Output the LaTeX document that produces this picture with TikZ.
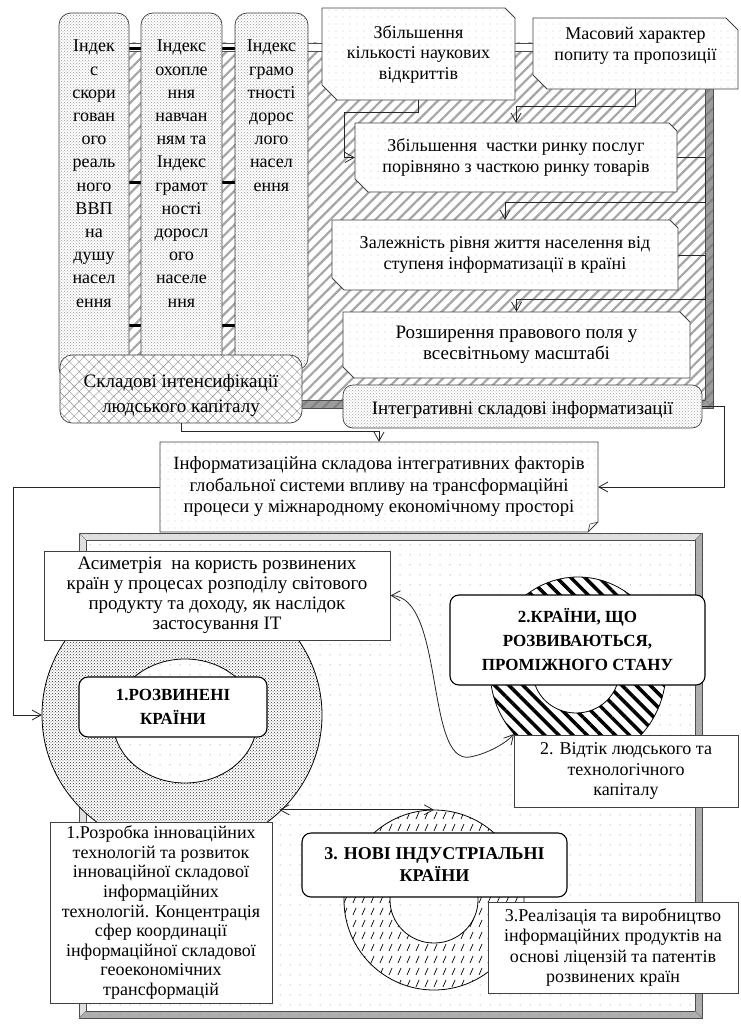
\documentclass[tikz,border=0pt]{standalone}
\usepackage{fontspec}
\setmainfont{Liberation Serif}
\usetikzlibrary{arrows.meta,patterns,patterns.meta,shapes.geometric,calc}

\pgfdeclarepatternformonly{slashdash}{\pgfqpoint{-1pt}{-1pt}}{\pgfqpoint{10pt}{13pt}}{\pgfqpoint{9pt}{12pt}}{%
  \pgfsetlinewidth{0.7pt}%
  \pgfpathmoveto{\pgfqpoint{2pt}{2pt}}%
  \pgfpathlineto{\pgfqpoint{5pt}{9pt}}%
  \pgfusepathqstroke}

% x1 y1 x2 y2 cNE cSW style
\newcommand\snipbox[7]{%
  \path[#7] (#1,#2) -- ({#3-#5},#2) -- (#3,{#2+#5}) -- (#3,#4) -- ({#1+#6},#4) -- (#1,{#4-#6}) -- cycle;}
% x1 y1 x2 y2 w light dark
\newcommand\bevelframe[7]{%
  \fill[#6] (#1,#2) -- (#3,#2) -- ({#3-#5},{#2+#5}) -- ({#1+#5},{#2+#5}) -- ({#1+#5},{#4-#5}) -- (#1,#4) -- cycle;
  \fill[#7] (#3,#2) -- (#3,#4) -- (#1,#4) -- ({#1+#5},{#4-#5}) -- ({#3-#5},{#4-#5}) -- ({#3-#5},{#2+#5}) -- cycle;
  \draw[black!70, line width=0.6pt] (#1,#2) rectangle (#3,#4);
  \draw[black!70, line width=0.6pt] ({#1+#5},{#2+#5}) rectangle ({#3-#5},{#4-#5});
  \draw[black!50, line width=0.4pt] (#1,#2) -- ({#1+#5},{#2+#5}) (#3,#2) -- ({#3-#5},{#2+#5})
      (#3,#4) -- ({#3-#5},{#4-#5}) (#1,#4) -- ({#1+#5},{#4-#5});}

\tikzset{
  txt/.style={font=\fontsize{18}{20.5}\selectfont, align=center, inner sep=0pt, text=black},
  txtm/.style={font=\fontsize{18.7}{21.5}\selectfont, align=center, inner sep=0pt, text=black},
  txtb/.style={font=\fontsize{19}{21.5}\selectfont, align=center, inner sep=0pt, text=black},
  asyt/.style={font=\fontsize{19}{20}\selectfont, align=center, inner sep=0pt, text=black},
  rozt/.style={font=\fontsize{18}{19.6}\selectfont, align=center, inner sep=0pt, text=black},
  colt/.style={font=\fontsize{18}{23.2}\selectfont, align=center, inner sep=0pt},
  sklt/.style={font=\fontsize{19}{25}\selectfont, align=center, inner sep=0pt},
  boldt/.style={font=\bfseries\fontsize{17}{24}\selectfont, align=center, inner sep=0pt},
  boldl/.style={font=\bfseries\fontsize{18}{22}\selectfont, align=center, inner sep=0pt},
  colbox/.style={draw=black!75, line width=0.7pt, rounded corners=12pt, preaction={fill=white},
     pattern=crosshatch dots, pattern color=black!40},
  sklbox/.style={draw=black!75, line width=0.7pt, rounded corners=12pt, preaction={fill=white},
     pattern={Hatch[angle=45,distance=7pt,line width=0.4pt]}, pattern color=black!45},
  intbox/.style={draw=black!75, line width=0.7pt, rounded corners=10pt, preaction={fill=white},
     pattern=crosshatch dots, pattern color=black!35},
  snipfill/.style={draw=black!75, line width=0.8pt, preaction={fill=white},
     pattern={Dots[distance=7pt,radius=0.45pt]}, pattern color=black!55},
  plainbox/.style={draw=black!75, line width=0.9pt, fill=white},
  cbox/.style={draw=black, line width=1.1pt, fill=white, rounded corners=9pt},
  conn/.style={draw=black!85, line width=0.8pt, -{Straight Barb[length=9pt,width=10pt]}},
  dconn/.style={draw=black!85, line width=0.8pt, {Straight Barb[length=9pt,width=10pt]}-{Straight Barb[length=9pt,width=10pt]}},
  ringline/.style={draw=black, line width=0.8pt},
  ringnode/.style={ellipse, inner sep=0pt, draw=none},
}

\begin{document}
\begin{tikzpicture}[x=1pt,y=-1pt]
\useasboundingbox (0,0) rectangle (741,1025);

% ---------- top hatched frame ----------
\fill[white] (70,43) rectangle (713,408);
\fill[pattern={Lines[angle=45,distance=8pt,line width=2.2pt]}, pattern color=black!35] (70,43) rectangle (713,408);
\bevelframe{70}{43}{713}{408}{8}{white}{black!55,fill opacity=0.7}

\foreach \yy in {49,182,325}{
  \draw[line width=3pt] (129,\yy) -- (141,\yy);
  \draw[line width=3pt] (222,\yy) -- (235,\yy);
}

% columns
\node[colbox, minimum width=70, minimum height=367] (col1) at (94,196.5) {};
\node[colbox, minimum width=81, minimum height=367] (col2) at (181.5,196.5) {};
\node[colbox, minimum width=73, minimum height=357] (col3) at (271.5,191.5) {};
\node[colt, anchor=north] (col1t) at (94,40) {Індек\\с\\скори\\гован\\ого\\реаль\\ного\\ВВП\\на\\душу\\насел\\ення};
\node[colt, anchor=north] (col2t) at (181.5,40) {Індекс\\охопле\\ння\\навчан\\ням та\\Індекс\\грамот\\ності\\доросл\\ого\\населе\\ння};
\node[colt, anchor=north] (col3t) at (271.5,40) {Індекс\\грамо\\тності\\дорос\\лого\\насел\\ення};

% snip boxes
\snipbox{322}{8}{515}{100}{10}{15}{snipfill}
\node[txt, minimum width=193, minimum height=92] (zbk) at (418.5,54) {Збільшення\\кількості наукових\\відкриттів};
\snipbox{533}{18}{738}{89}{12}{14}{snipfill}
\node[minimum width=205, minimum height=71, inner sep=0pt] (mas) at (635.5,53.5) {};
\node[txt] (mast) at (635.5,46) {Масовий характер\\попиту та пропозиції};
\snipbox{355}{123}{677}{192}{8}{13}{snipfill}
\node[txt, minimum width=322, minimum height=69] (zch) at (516,157.5) {Збільшення~ частки ринку послуг\\порівняно з часткою ринку товарів};
\snipbox{332}{220}{678}{290}{8}{12}{snipfill}
\node[txt, minimum width=346, minimum height=70] (zal) at (505,255) {Залежність рівня життя населення від\\ступеня інформатизації в країні};
\snipbox{343}{312}{690}{378}{10}{11}{snipfill}
\node[txtb, minimum width=347, minimum height=66] (roz) at (516.5,345) {Розширення правового поля у\\всесвітньому масштабі};

% bottom boxes of top section
\node[sklbox, minimum width=242, minimum height=68] (skl) at (181,389) {};
\node[sklt] (sklt) at (181,395) {Складові інтенсифікації\\людського капіталу};
\node[intbox, minimum width=359, minimum height=43] (int) at (522.5,406.5) {};
\node[txtb] (intt) at (522.5,410) {Інтегративні складові інформатизації};

% informatization box with folded corner
\path[snipfill] (160,442) -- (598,442) -- (598,522) -- (588,532) -- (160,532) -- cycle;
\draw[black!75, line width=0.6pt] (598,522) -- (590,524) -- (588,532);
\node[txtm, minimum width=438, minimum height=90] (inf) at (379,487) {Інформатизаційна складова інтегративних факторів\\глобальної системи впливу на трансформаційні\\процеси у міжнародному економічному просторі};

% ---------- bottom panel ----------
\fill[white] (79,533) rectangle (702,1018);
\fill[pattern={Dots[distance=10pt,radius=0.5pt]}, pattern color=black!55] (79,533) rectangle (702,1018);
\bevelframe{79}{533}{702}{1018}{7}{black!20,fill opacity=0.6}{black!45,fill opacity=0.7}

% ring 1
\node[ringnode, minimum width=280, minimum height=270] (r1) at (182,715) {};
\fill[white, even odd rule] (182,715) ellipse [x radius=140, y radius=135] (185,721) ellipse [x radius=72, y radius=62];
\fill[pattern=crosshatch dots, pattern color=black!80, even odd rule] (182,715) ellipse [x radius=140, y radius=135] (185,721) ellipse [x radius=72, y radius=62];
\draw[ringline] (182,715) ellipse [x radius=140, y radius=135] (185,721) ellipse [x radius=72, y radius=62];

% ring 2
\node[ringnode, minimum width=176, minimum height=186] (r2) at (578,670) {};
\fill[white, even odd rule] (578,670) ellipse [x radius=88, y radius=93] (576,672) ellipse [x radius=43, y radius=41];
\fill[pattern={Lines[angle=-45,distance=10pt,line width=3.5pt]}, pattern color=black, even odd rule] (578,670) ellipse [x radius=88, y radius=93] (576,672) ellipse [x radius=43, y radius=41];
\draw[ringline] (578,670) ellipse [x radius=88, y radius=93] (576,672) ellipse [x radius=43, y radius=41];

% ring 3
\node[ringnode, minimum width=180, minimum height=180] (r3) at (434,900) {};
\fill[white, even odd rule] (434,900) ellipse [x radius=90, y radius=90] (434,900) ellipse [x radius=44, y radius=43];
\fill[pattern=slashdash, pattern color=black, even odd rule] (434,900) ellipse [x radius=90, y radius=90] (434,900) ellipse [x radius=44, y radius=43];
\draw[ringline] (434,900) ellipse [x radius=90, y radius=90] (434,900) ellipse [x radius=44, y radius=43];

% boxes in panel
\node[plainbox, asyt, minimum width=346, minimum height=89] (asy) at (217,595.5) {Асиметрія~ на користь розвинених\\країн у процесах розподілу світового\\продукту та доходу, як наслідок\\застосування ІТ};
\node[cbox, boldt, minimum width=188, minimum height=60] (n1) at (173,707) {1.РОЗВИНЕНІ\\КРАЇНИ};
\node[cbox, boldt, minimum width=255, minimum height=90] (n2) at (577.5,640) {2.КРАЇНИ, ЩО\\РОЗВИВАЮТЬСЯ,\\ПРОМІЖНОГО СТАНУ};
\node[plainbox, txt, minimum width=224, minimum height=72] (vid) at (626,771) {2. Відтік людського та\\технологічного\\капіталу};
\node[cbox, boldl, minimum width=265, minimum height=64] (n3) at (434.5,865) {3. НОВІ ІНДУСТРІАЛЬНІ\\КРАЇНИ};
\node[plainbox, rozt, minimum width=222, minimum height=181] (rozr) at (161,912.5) {1.Розробка інноваційних\\технологій та розвиток\\інноваційної складової\\інформаційних\\технологій. Концентрація\\сфер координації\\інформаційної складової\\геоекономічних\\трансформацій};
\node[plainbox, txt, minimum width=250, minimum height=91] (rea) at (613,947.5) {3.Реалізація та виробництво\\інформаційних продуктів на\\основі ліцензій та патентів\\розвинених країн};

% ---------- connectors ----------
\draw[conn] (zbk.south) -- ++(0,12) -| ([xshift=-10pt]zch.west) -- (zch.west);
\draw[conn] (mas.south) -- ++(0,17) -| (zch.north);
\draw[conn] (zch.east) -- ++(28,0) |- ([yshift=17pt]zal.north) -- (zal.north);
\draw[conn] (zal.east) -- ++(27,0) |- ([yshift=12pt]roz.north) -- (roz.north);
\draw[conn] (skl.south) |- ([yshift=10pt]inf.north) -- (inf.north);
\draw[conn] (int.east) -- ++(22,0) |- (inf.east);
\draw[conn] (inf.west) -- ++(-146,0) |- (r1.west);
\draw[dconn] (asy.east) .. controls (445,597) and (425,765) .. (470,757) .. controls (490,753) and (507,742) .. (r2.225);
\draw[dconn] (r1.-45 |- r3.north) -- (r3.north);
\end{tikzpicture}
\end{document}
